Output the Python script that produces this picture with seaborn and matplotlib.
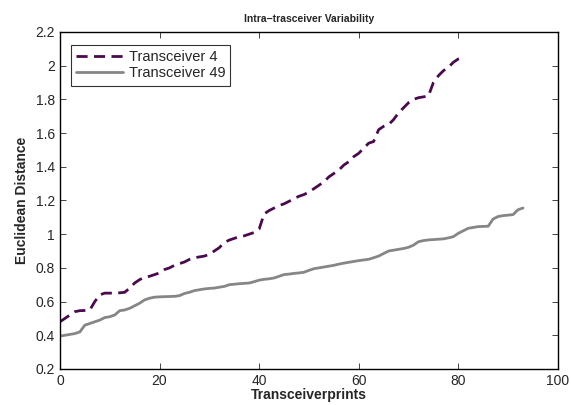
import pandas as pd
import matplotlib
matplotlib.use("Agg")
import matplotlib.pyplot as plt
import seaborn as sns
from matplotlib.ticker import FuncFormatter

# distances
t4_dist = [0.48, 0.50, 0.52, 0.54, 0.546, 0.547, 0.55, 0.60, 0.64, 0.65,
           0.65, 0.65, 0.652, 0.655, 0.68, 0.71, 0.73, 0.745, 0.75, 0.76,
           0.77, 0.79, 0.80, 0.815, 0.825, 0.835, 0.85, 0.86, 0.865, 0.87,
           0.88, 0.90, 0.92, 0.95, 0.965, 0.975, 0.985, 0.99, 1.0, 1.01,
           1.03, 1.12, 1.14, 1.155, 1.17, 1.18, 1.195, 1.21, 1.225, 1.235,
           1.25, 1.27, 1.29, 1.31, 1.34, 1.36, 1.38, 1.41, 1.43, 1.46,
           1.48, 1.51, 1.54, 1.55, 1.62, 1.64, 1.65, 1.68, 1.72, 1.75,
           1.78, 1.80, 1.81, 1.815, 1.82, 1.90, 1.94, 1.97, 1.99, 2.02,
           2.04, 2.05]
t49_dist = [0.395, 0.40, 0.405, 0.41, 0.42, 0.46, 0.47, 0.48, 0.49, 0.505,
            0.51, 0.52, 0.546, 0.55, 0.56, 0.575, 0.59, 0.61, 0.62, 0.626,
            0.628, 0.629, 0.63, 0.631, 0.635, 0.648, 0.655, 0.665, 0.67, 0.675,
            0.678, 0.68, 0.685, 0.69, 0.70, 0.703, 0.706, 0.708, 0.71, 0.718,
            0.727, 0.732, 0.735, 0.74, 0.75, 0.76, 0.763, 0.767, 0.77, 0.774,
            0.785, 0.795, 0.80, 0.805, 0.81, 0.815, 0.822, 0.828, 0.833, 0.838,
            0.843, 0.847, 0.851, 0.86, 0.87, 0.885, 0.90, 0.905, 0.91, 0.915,
            0.922, 0.935, 0.955, 0.962, 0.966, 0.968, 0.97, 0.972, 0.978, 0.985,
            1.005, 1.02, 1.035, 1.04, 1.045, 1.046, 1.047, 1.09, 1.105, 1.11,
            1.113, 1.116, 1.145, 1.155]
labels = ["Transceiver 4", "Transceiver 49"]

df = pd.concat([
    pd.DataFrame({"print": range(len(t4_dist)), "dist": t4_dist, "tx": labels[0]}),
    pd.DataFrame({"print": range(len(t49_dist)), "dist": t49_dist, "tx": labels[1]}),
])

sns.set_style("ticks")
plt.rcParams["font.family"] = ["Liberation Sans", "DejaVu Sans"]

fig = plt.figure(figsize=(5.71, 4.05), dpi=100)
ax = fig.add_axes([0.105, 0.089, 0.872, 0.832])

sns.lineplot(data=df, x="print", y="dist", hue="tx", style="tx",
             palette={labels[0]: "#4a0a4d", labels[1]: "#868686"},
             dashes={labels[0]: (4, 2.3), labels[1]: ""},
             linewidth=2.0, ax=ax)

ax.set_xlim(0, 100)
ax.set_ylim(0.2, 2.2)
ax.set_xticks(range(0, 101, 20))
ax.set_yticks([0.2 + 0.2 * i for i in range(11)])
ax.yaxis.set_major_formatter(FuncFormatter(lambda v, p: "%g" % round(v, 1)))
ax.tick_params(direction="in", top=True, right=True, labelsize=10, length=4, width=0.6)
for s in ax.spines.values():
    s.set_visible(True)
    s.set_linewidth(1.0)
    s.set_color("black")

ax.set_title("Intra\u2212trasceiver Variability", fontsize=7.5, fontweight="bold", pad=7)
ax.set_xlabel("Transceiverprints", fontsize=10, fontweight="bold", labelpad=0)
ax.set_ylabel("Euclidean Distance", fontsize=10, fontweight="bold", labelpad=5)

leg = ax.legend(loc="upper left", fontsize=10.5, handlelength=3.2, frameon=True,
                fancybox=False, edgecolor="black", borderpad=0.35, borderaxespad=0,
                labelspacing=0.15, handletextpad=0.4, bbox_to_anchor=(0.022, 0.961))
leg.get_frame().set_linewidth(0.8)

fig.savefig("out.png", dpi=100)
